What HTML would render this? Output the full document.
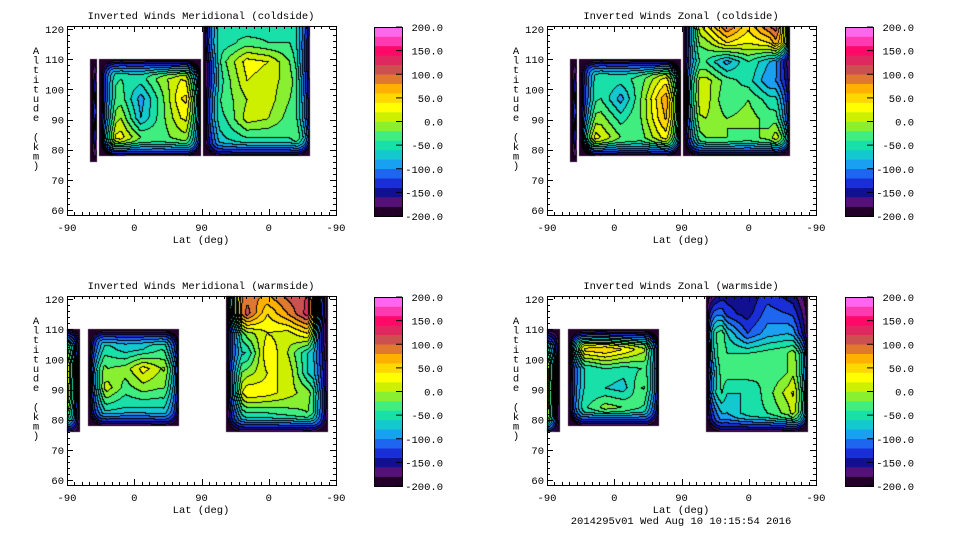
<!DOCTYPE html>
<html><head><meta charset="utf-8"><style>
html,body{margin:0;padding:0;background:#fff;}
#wrap{position:relative;width:960px;height:540px;overflow:hidden;}
canvas,svg{position:absolute;left:0;top:0;}
text{font-family:"Liberation Mono","DejaVu Sans Mono",monospace;font-size:10.5px;fill:#000;}
</style></head><body>
<div id="wrap">
<canvas id="cv" width="960" height="540"></canvas>
<svg id="sv" width="960" height="540"></svg>
</div>
<script>
// ---- data ----
const panelTitles=["Inverted Winds Meridional (coldside)","Inverted Winds Zonal (coldside)","Inverted Winds Meridional (warmside)","Inverted Winds Zonal (warmside)"];
const yTicks=[60,70,80,90,100,110,120];
const xTickLabels=["-90","0","90","0","-90"];
const cbTicks=[200,150,100,50,0,-50,-100,-150,-200];
const levels=[-200,-180,-160,-140,-120,-100,-80,-60,-40,-20,0,20,40,60,80,100,120,140,160,180,200];
const bandColors=['#22002a','#551177','#101090','#1a2ed8','#1e66f0','#1aa0f0','#14c8d0','#18e0a8','#40ee80','#88f030','#ccf000','#ffff00','#ffd800','#ffb000','#e07830','#cc5050','#e02860','#ff0868','#ff3ab0','#ff66ee'];
// grids: rows top(high alt) -> bottom, cols left -> right
const tlA=[[-170],[-120],[-170]];
const tlB=[[-90,-80,-80,-80,-80,-70],[-50,-40,-50,-10,20,10],[-50,-30,-90,-30,40,60],[-40,0,-80,-30,20,40],[10,30,-20,-30,-10,0],[-80,-80,-80,-80,-80,-70]];
const tlC=[[-60,-40,-60,-50,-60,-60],[-40,-50,-30,-40,-40,-90],[-100,-20,30,20,-20,-100],[-110,-30,20,10,-10,-80],[-70,-30,0,10,-20,-60],[-60,-40,10,0,-30,-40],[-90,-60,-40,-40,-40,20],[-110,-100,-100,-100,-100,-100]];
const trA=[[-170],[-120],[-170]];
const trB=[[-90,-80,-80,-80,-80,-70],[-70,-40,-50,-30,20,60],[-60,-40,-90,-20,60,110],[-20,-10,-50,-20,50,100],[60,20,-20,-30,20,60],[-90,-80,-90,-90,-90,-80]];
const trC=[[-40,40,110,50,110,140],[-30,-10,40,20,40,150],[-40,-40,-90,-40,-80,-130],[0,10,-30,-50,-100,-100],[10,10,-40,-20,-50,-60],[-10,0,-20,-10,-30,-30],[-50,-20,-20,-30,-10,70],[-110,-100,-100,-100,-100,-100]];
const blA=[[-60,-150],[40,-160],[30,-160],[-60,-150]];
const blB=[[-100,-90,-90,-90,-90,-100],[-60,-50,-70,-60,-40,-60],[20,-20,-10,30,0,20],[-20,10,-30,-10,-20,-10],[-60,-50,-60,-60,-60,-50],[-110,-110,-110,-110,-100,-100]];
const blC=[[40,90,80,110,120,-150],[20,110,40,80,130,-160],[-80,-10,20,10,40,-180],[-70,-60,40,0,-60,-120],[-40,-10,20,20,-60,-100],[-40,40,30,10,-10,-90],[-90,-40,-40,-30,-20,-90],[-120,-120,-120,-120,-110,-110]];
const brA=[[-100,-170],[20,-180],[30,-180],[0,-170]];
const brB=[[-100,-90,-90,-100,-100,-100],[40,50,60,40,10,-20],[-60,-60,-40,-50,-40,0],[-50,-60,-60,-70,-20,-10],[-40,-40,-10,-20,-40,-60],[-110,-110,-120,-120,-110,-110]];
const brC=[[-170,-150,-160,-130,-150,-170],[-40,-130,-150,-110,-120,-140],[60,-60,-120,-90,-80,-110],[30,-40,-40,-30,-20,30],[-20,-30,-30,-40,-20,40],[20,-60,-60,-30,10,60],[-70,-80,-50,-40,-10,60],[-120,-120,-120,-120,-110,-110]];
// block extents: [u0,u1,altBottom,altTop] in lat-axis units (0..360) and km
const panels=[
 {ox:0,oy:0,cbx:374,lblx:443,blocks:[{e:[32,40,76,110],g:tlA,open:''},{e:[44,178,78,110],g:tlB,open:''},{e:[183,325,78,122],g:tlC,open:'t'}]},
 {ox:480,oy:0,cbx:365,lblx:434,blocks:[{e:[32,40,76,110],g:trA,open:''},{e:[44,178,78,110],g:trB,open:''},{e:[183,325,78,122],g:trC,open:'t'}]},
 {ox:0,oy:270,cbx:374,lblx:443,blocks:[{e:[-2,17,76,110],g:blA,open:'l'},{e:[29,149,78,110],g:blB,open:''},{e:[213,348,76,122],g:blC,open:'t'}]},
 {ox:480,oy:270,cbx:365,lblx:434,blocks:[{e:[-2,17,76,110],g:brA,open:'l'},{e:[29,149,78,110],g:brB,open:''},{e:[213,348,76,122],g:brC,open:'t'}]}
];
// ---- scales ----
function xs(p,u){return p.ox+67+u*269/360;}
function ys(p,a){return p.oy+29+(120-a)*181/60;}
function bandOf(v){let b=Math.floor((v-levels[0])/20);return Math.max(0,Math.min(19,b));}
function interp(g,fx,fy){const R=g.length,C=g[0].length;
 const gx=Math.max(0,Math.min(C-1,fx*(C-1))),gy=Math.max(0,Math.min(R-1,fy*(R-1)));
 const i=Math.min(C-2,Math.floor(gx)),j=Math.min(R-2,Math.floor(gy));
 if(C===1&&R===1)return g[0][0];
 if(C===1){const jj=Math.min(R-2,Math.floor(gy)),t=gy-jj;return g[jj][0]*(1-t)+g[jj+1][0]*t;}
 if(R===1){const t=gx-i;return g[0][i]*(1-t)+g[0][i+1]*t;}
 const tx=gx-i,ty=gy-j;
 return (g[j][i]*(1-tx)+g[j][i+1]*tx)*(1-ty)+(g[j+1][i]*(1-tx)+g[j+1][i+1]*tx)*ty;}
const cv=document.getElementById('cv'),ctx=cv.getContext('2d');
const img=ctx.createImageData(960,540);
function hex(c){return [parseInt(c.substr(1,2),16),parseInt(c.substr(3,2),16),parseInt(c.substr(5,2),16)];}
const rgb=bandColors.map(hex);
panels.forEach(p=>{
 const fx0=p.ox+67,fx1=p.ox+336,fy0=p.oy+26,fy1=p.oy+215;
 const W=fx1-fx0,H=fy1-fy0;const band=new Int16Array(W*H).fill(-1);
 p.blocks.forEach(b=>{
  const x0=xs(p,b.e[0]),x1=xs(p,b.e[1]),yT=ys(p,b.e[3]),yB=ys(p,b.e[2]);
  const w=Math.min(15,(x1-x0)/2);
  for(let py=Math.max(fy0,Math.floor(yT));py<Math.min(fy1,Math.ceil(yB));py++){
   for(let px=Math.max(fx0,Math.floor(x0));px<Math.min(fx1,Math.ceil(x1));px++){
    let v=interp(b.g,(px-x0)/(x1-x0),(py-yT)/(yB-yT));
    let dl=b.open.includes('l')?99:px-x0,dr=x1-px,dt=b.open.includes('t')?99:py-yT,db=yB-py;
    let fh=Math.min(1,Math.min(dl,dr)/w),fv=Math.min(1,Math.min(dt,db)/15);
    let f=Math.min(fh,fv);if(fh<1&&fv<1)f=Math.max(0,1-Math.hypot(1-fh,1-fv));
    f=Math.sqrt(f);
    v=v*f+(-205)*(1-f);
    band[(py-fy0)*W+(px-fx0)]=bandOf(v);
   }}
 });
 for(let y=0;y<H;y++)for(let x=0;x<W;x++){const b=band[y*W+x];if(b<0)continue;
  let c=rgb[b];const l=x>0?band[y*W+x-1]:-1,u=y>0?band[(y-1)*W+x]:-1;
  if((l>=0&&l!==b)||(u>=0&&u!==b))c=[0,0,0];
  const k=((fy0+y)*960+fx0+x)*4;img.data[k]=c[0];img.data[k+1]=c[1];img.data[k+2]=c[2];img.data[k+3]=255;}
});
ctx.putImageData(img,0,0);
// ---- axes ----
const sv=document.getElementById('sv');const NS='http://www.w3.org/2000/svg';
function mk(t,a,par){const e=document.createElementNS(NS,t);for(const k in a)e.setAttribute(k,a[k]);(par||sv).appendChild(e);return e;}
panels.forEach((p,pi)=>{
 const g=mk('g',{});
 
 
 const fr=mk('rect',{x:p.ox+67.5,y:p.oy+26.5,width:269,height:189,fill:'none',stroke:'#000','stroke-width':1},g);
 
 
 let d='';
 for(let a=60;a<=120;a+=2){const y=Math.round(ys(p,a))+0.5,L=(a%10===0)?6:3;
  d+=`M${p.ox+67} ${y}h${L}M${p.ox+336} ${y}h${-L}`;}
 for(let u=0;u<=360;u+=10){const x=Math.round(xs(p,u))+0.5,L=(u%90===0)?6:3;
  d+=`M${x} ${p.oy+215}v${-L}M${x} ${p.oy+26}v${L}`;}
 const tk=mk('path',{d:d,stroke:'#000','stroke-width':1,fill:'none'},g);
 
 
 yTicks.forEach(a=>{const t=mk('text',{x:p.ox+64,y:ys(p,a)+4,'text-anchor':'end'},g);t.textContent=a;
  
  });
 xTickLabels.forEach((s,i)=>{const t=mk('text',{x:xs(p,i*90),y:p.oy+231,'text-anchor':'middle'},g);t.textContent=s;
  
  });
 const ti=mk('text',{x:p.ox+201,y:p.oy+19,'text-anchor':'middle'},g);ti.textContent=panelTitles[pi];
 
 
 const xl=mk('text',{x:p.ox+201,y:p.oy+243,'text-anchor':'middle'},g);xl.textContent='Lat (deg)';
 
 
 'Altitude (km)'.split('').forEach((ch,i)=>{const t=mk('text',{x:p.ox+36,y:p.oy+54+i*9.6,'text-anchor':'middle'},g);t.textContent=ch;
  
  });
 // colorbar
 const cx=p.ox+p.cbx,cy0=p.oy+27,ch=189,bh=ch/20;
 bandColors.forEach((c,i)=>{const r=mk('rect',{x:cx,y:cy0+ch-(i+1)*bh,width:28,height:bh+0.3,fill:c},g);
  
  });
 const cf=mk('rect',{x:cx+0.5,y:cy0+0.5,width:28,height:ch,fill:'none',stroke:'#000'},g);
 
 
 cbTicks.forEach(v=>{const y=cy0+(200-v)/400*ch;
  const l=mk('line',{x1:cx+22,x2:cx+28,y1:y,y2:y,stroke:'#000'},g);
  
  
  const t=mk('text',{x:p.ox+p.lblx,y:y+4,'text-anchor':'end'},g);t.textContent=v.toFixed(1);
  
  });
});
const ft=mk('text',{x:681,y:524,'text-anchor':'middle'});ft.textContent='2014295v01 Wed Aug 10 10:15:54 2016';


</script>
</body></html>
